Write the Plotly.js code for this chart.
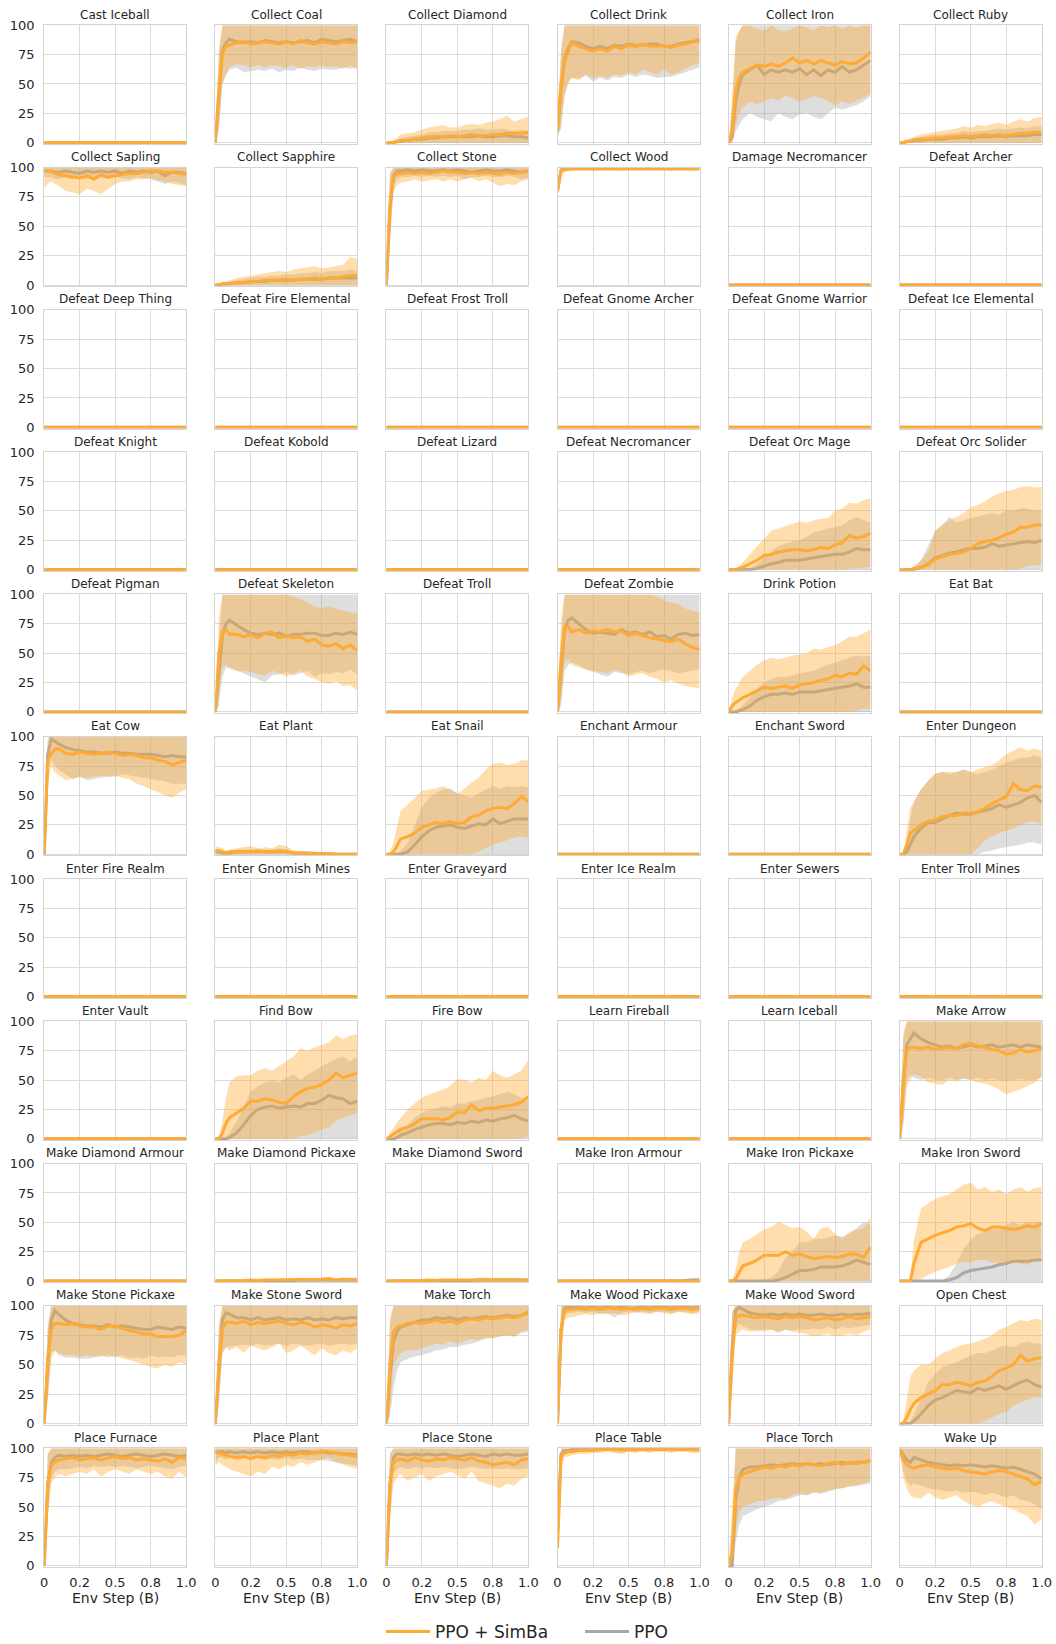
<!DOCTYPE html>
<html><head><meta charset="utf-8">
<script src="https://cdn.plot.ly/plotly-3.0.1.min.js"></script>
<style>body{margin:0;background:#fff}#chart{width:1056px;height:1644px}</style>
</head><body><div id="chart"></div>
<script>
// Env step (billions) sample points
const X = [0,0.025,0.05,0.075,0.1,0.15,0.2,0.25,0.3,0.35,0.4,0.45,0.5,0.55,0.6,0.65,0.7,0.75,0.8,0.85,0.9,0.95,1.0];
const XTICK_VALS = [0,0.25,0.5,0.75,1];
const XTICK_TEXT = ['0','0.2','0.5','0.8','1.0'];
const YTICK_VALS = [0,25,50,75,100];
const SERIES_NAMES = ['PPO + SimBa','PPO'];

const TITLES = [
'Cast Iceball','Collect Coal','Collect Diamond','Collect Drink','Collect Iron','Collect Ruby',
'Collect Sapling','Collect Sapphire','Collect Stone','Collect Wood','Damage Necromancer','Defeat Archer',
'Defeat Deep Thing','Defeat Fire Elemental','Defeat Frost Troll','Defeat Gnome Archer','Defeat Gnome Warrior','Defeat Ice Elemental',
'Defeat Knight','Defeat Kobold','Defeat Lizard','Defeat Necromancer','Defeat Orc Mage','Defeat Orc Solider',
'Defeat Pigman','Defeat Skeleton','Defeat Troll','Defeat Zombie','Drink Potion','Eat Bat',
'Eat Cow','Eat Plant','Eat Snail','Enchant Armour','Enchant Sword','Enter Dungeon',
'Enter Fire Realm','Enter Gnomish Mines','Enter Graveyard','Enter Ice Realm','Enter Sewers','Enter Troll Mines',
'Enter Vault','Find Bow','Fire Bow','Learn Fireball','Learn Iceball','Make Arrow',
'Make Diamond Armour','Make Diamond Pickaxe','Make Diamond Sword','Make Iron Armour','Make Iron Pickaxe','Make Iron Sword',
'Make Stone Pickaxe','Make Stone Sword','Make Torch','Make Wood Pickaxe','Make Wood Sword','Open Chest',
'Place Furnace','Place Plant','Place Stone','Place Table','Place Torch','Wake Up'];

const ZERO = [0,0,0,0,0,0,0,0,0,0,0,0,0,0,0,0,0,0,0,0,0,0,0];
// each task: [SimBa mean, SimBa low, SimBa high, PPO mean, PPO low, PPO high]
const collectCoal = [
 [0,45,76,82,83,85,86,84,85,86,85,84,86,84,87,85,84,86,85,84,86,85,86],
 [0,15,50,58,64,67,66,64,66,64,66,65,64,66,63,65,64,66,64,65,63,66,62],
 [0,80,100,100,100,100,100,100,100,100,100,100,100,100,100,100,100,100,100,100,100,100,100],
 [0,40,78,85,88,86,85,86,85,87,86,85,86,85,86,87,85,88,87,86,87,88,86],
 [0,10,50,58,62,64,60,61,62,61,63,60,62,61,64,62,61,63,62,62,64,63,64],
 [0,75,100,100,100,100,100,100,100,100,100,100,100,100,100,100,100,100,100,100,100,100,100]];
const collectDiamond = [
 [0,0,0,1,2,2,3,4,5,5,5,6,5,6,7,6,6,7,7,8,8,8,9],
 [0,0,0,0,0,0,0,0,0,0,0,0,0,0,0,0,0,0,0,0,0,0,0],
 [0,0,2,4,7,8,9,11,13,14,15,13,13,15,16,15,17,18,20,23,18,20,22],
 [0,0,0,1,1,2,3,3,4,4,5,5,5,5,5,6,5,5,6,6,5,5,4],
 [0,0,0,0,0,0,0,0,0,0,0,0,0,0,0,0,0,0,0,0,0,0,0],
 [0,0,1,2,3,5,6,7,9,9,10,10,10,11,11,12,11,11,12,11,10,11,10]];
const collectDrink = [
 [12,50,70,78,85,82,80,78,80,78,82,80,83,82,84,82,82,83,81,83,84,86,88],
 [5,15,40,50,55,53,58,55,57,55,58,57,60,58,62,60,58,62,58,60,63,66,68],
 [20,80,100,100,100,100,100,100,100,100,100,100,100,100,100,100,100,100,100,100,100,100,100],
 [10,45,72,80,86,85,82,80,82,80,83,82,84,83,83,84,84,82,82,84,85,86,87],
 [5,12,40,52,55,55,57,52,55,53,56,55,58,56,58,57,55,56,56,58,60,62,64],
 [20,75,100,100,100,100,100,100,100,100,100,100,100,100,100,100,100,100,100,100,100,100,100]];
const collectIron = [
 [0,10,45,55,60,63,66,65,67,65,68,72,68,70,67,70,68,66,69,67,68,72,77],
 [0,0,15,25,30,35,33,35,38,36,40,38,35,37,40,38,35,32,35,33,36,38,42],
 [0,40,90,95,100,100,97,95,100,96,95,97,100,98,96,100,98,100,97,100,98,100,100],
 [0,5,35,50,58,62,66,58,62,60,62,60,63,58,62,57,62,60,65,60,62,66,70],
 [0,0,10,15,20,25,22,20,18,25,22,20,24,25,22,20,25,30,28,30,32,35,40],
 [0,30,85,95,100,100,100,100,100,100,100,100,100,100,100,100,100,100,100,100,100,100,100]];
const collectRuby = [
 [0,0,1,1,2,3,3,4,4,5,5,6,5,6,7,6,7,6,7,8,8,9,9],
 [0,0,0,0,0,0,0,0,0,0,0,0,0,0,0,0,0,0,0,0,0,0,0],
 [0,1,3,4,5,7,8,9,10,11,12,14,13,15,14,16,17,15,18,20,18,21,22],
 [0,0,1,1,2,2,3,3,3,4,4,5,4,5,5,5,6,5,6,6,6,7,7],
 [0,0,0,0,0,0,0,0,0,0,0,0,0,0,0,0,0,0,0,0,0,0,0],
 [0,1,2,3,4,5,6,7,7,8,8,10,9,10,10,11,12,11,12,13,12,14,14]];
const collectSapling = [
 [97,97,97,95,94,93,92,91,93,90,94,92,93,94,95,95,96,97,97,96,96,95,94],
 [82,86,88,86,85,80,79,77,82,80,77,82,86,88,88,90,90,91,89,88,86,85,84],
 [100,100,100,100,100,100,100,100,100,100,100,100,100,100,100,100,100,100,100,100,100,100,100],
 [97,97,97,96,96,97,96,95,97,96,97,96,97,95,97,96,97,96,97,93,96,96,95],
 [92,92,92,90,90,92,90,91,90,92,91,90,92,91,90,92,91,90,88,86,88,87,85],
 [100,100,100,100,100,100,100,100,100,100,100,100,100,100,100,100,100,100,100,100,100,100,100]];
const collectSapphire = [
 [0,0,1,1,1,2,2,3,3,4,4,4,5,4,5,5,6,5,6,6,7,8,8],
 [0,0,0,0,0,0,0,0,0,0,0,0,0,0,0,0,0,0,0,0,0,0,0],
 [0,1,2,3,4,6,7,8,9,10,11,12,11,13,14,15,16,14,15,16,17,24,22],
 [0,0,1,1,1,2,2,3,3,3,4,4,4,4,5,5,5,5,6,6,6,6,6],
 [0,0,0,0,0,0,0,0,0,0,0,0,0,0,0,0,0,0,0,0,0,0,0],
 [0,1,2,2,3,4,5,6,7,7,8,8,9,9,10,10,11,10,12,12,12,13,12]];
const collectStone = [
 [0,70,92,95,95,96,95,96,95,96,97,96,96,95,96,95,96,95,94,96,95,96,97],
 [0,40,80,85,87,88,90,88,89,90,88,90,88,90,91,88,90,87,84,86,85,88,90],
 [0,95,100,100,100,100,100,100,100,100,100,100,100,100,100,100,100,100,100,100,100,100,100],
 [0,65,93,97,97,98,97,98,97,97,98,97,98,97,96,97,98,97,97,98,97,96,97],
 [0,35,85,90,92,92,93,92,93,92,93,92,93,90,92,92,93,92,92,93,92,90,91],
 [0,95,100,100,100,100,100,100,100,100,100,100,100,100,100,100,100,100,100,100,100,100,100]];
const collectWood = [
 [80,97,98,99,99,99,99,99,99,99,99,99,99,99,99,99,99,99,99,99,99,99,99],
 [75,94,96,97,97,98,98,97,98,98,98,97,98,98,98,98,98,98,97,98,98,97,98],
 [85,100,100,100,100,100,100,100,100,100,100,100,100,100,100,100,100,100,100,100,100,100,100],
 [80,98,99,99,99,99,99,99,99,99,99,99,99,99,99,99,99,99,99,99,99,99,99],
 [75,96,98,98,98,98,98,98,98,98,98,98,98,98,98,98,98,98,98,98,98,98,98],
 [85,100,100,100,100,100,100,100,100,100,100,100,100,100,100,100,100,100,100,100,100,100,100]];
const defeatOrcMage = [
 [0,0,0,1,2,5,8,12,13,15,16,17,17,16,17,19,18,21,23,29,27,28,31],
 [0,0,0,0,0,0,0,0,0,0,0,0,0,0,0,0,0,0,0,1,1,2,2],
 [0,0,1,3,6,13,20,26,33,35,37,39,41,40,42,43,44,50,52,57,56,59,61],
 [0,0,0,0,0,0,1,3,5,6,8,8,8,9,10,11,12,13,13,15,18,17,17],
 [0,0,0,0,0,0,0,0,0,0,0,0,0,0,0,0,0,0,0,0,0,0,0],
 [0,0,0,0,0,1,5,10,15,20,22,24,25,28,32,33,35,36,38,42,45,42,40]];
const defeatOrcSolider = [
 [0,0,0,0,1,2,4,9,11,13,14,15,18,22,24,25,27,30,32,36,36,38,38],
 [0,0,0,0,0,0,0,0,0,0,0,0,0,0,0,0,0,0,0,1,3,4,4],
 [0,0,0,1,3,8,15,33,38,42,45,48,53,55,58,62,65,67,68,70,71,70,70],
 [0,0,0,0,0,2,5,10,12,14,15,17,18,18,19,22,20,21,22,23,24,23,25],
 [0,0,0,0,0,0,0,0,0,0,0,0,0,0,0,0,0,0,0,0,0,0,0],
 [0,0,0,0,1,8,20,33,38,45,40,42,44,45,47,48,47,50,50,52,52,50,50]];
const defeatSkeleton = [
 [0,50,68,70,66,66,64,66,63,67,68,63,65,63,64,60,62,57,56,58,54,57,52],
 [0,15,38,40,38,35,35,34,32,31,35,33,30,33,35,30,28,25,24,26,22,23,18],
 [0,80,100,100,100,100,100,100,100,100,100,100,100,98,96,93,90,88,90,88,86,85,84],
 [0,30,65,75,78,74,70,67,66,67,66,67,64,66,66,67,67,65,65,67,66,68,66],
 [0,5,30,38,37,35,33,30,28,25,31,32,34,31,33,35,30,33,32,34,33,36,32],
 [0,60,100,100,100,100,100,100,100,100,100,100,100,100,100,100,100,100,100,100,100,100,100]];
const defeatZombie = [
 [0,45,72,73,68,70,67,69,68,70,68,69,65,67,65,63,62,61,60,62,58,55,53],
 [0,10,42,45,40,38,36,35,34,33,36,34,30,32,33,30,28,25,27,24,22,21,20],
 [0,80,100,100,100,100,100,100,100,100,100,100,100,100,100,100,98,95,93,92,88,86,85],
 [0,35,70,78,80,75,70,67,68,67,66,70,67,68,66,68,64,65,62,66,67,65,66],
 [0,5,35,40,42,40,36,34,32,30,34,33,32,34,35,33,35,36,35,33,34,35,36],
 [0,60,100,100,100,100,100,100,100,100,100,100,100,100,100,100,100,100,100,100,100,100,100]];
const drinkPotion = [
 [0,5,8,10,12,15,18,21,20,21,22,20,23,24,25,27,28,31,30,33,32,39,35],
 [0,0,0,0,0,0,0,0,0,0,0,0,0,0,0,0,0,0,0,0,1,3,3],
 [0,12,20,25,30,35,40,44,46,45,46,48,49,50,54,53,55,57,60,64,64,67,70],
 [0,0,0,1,2,5,10,13,15,15,16,15,17,17,17,18,19,20,21,22,24,21,21],
 [0,0,0,0,0,0,0,0,0,0,0,0,0,0,0,0,0,0,0,0,0,0,0],
 [0,0,1,3,6,12,20,25,28,30,30,31,33,34,35,38,40,42,44,46,48,47,48]];
const eatCow = [
 [0,80,86,89,90,86,85,87,86,85,86,87,86,84,85,84,82,82,80,79,76,78,80],
 [0,60,75,70,68,63,64,66,65,66,67,66,67,65,64,60,58,55,53,50,48,52,55],
 [0,95,100,100,100,100,100,100,100,100,100,100,100,100,100,100,100,100,100,100,100,100,100],
 [0,85,98,96,94,91,89,88,87,87,86,86,87,86,86,85,85,85,84,83,84,83,83],
 [0,70,80,76,72,68,64,66,63,64,65,66,66,68,67,66,65,64,63,62,60,60,60],
 [0,100,100,100,100,100,100,100,100,100,100,100,100,100,100,100,100,100,100,100,100,100,100]];
const eatPlant = [
 [3,3,2,1,2,2,2,2,3,2,2,3,2,1,1,1,0.5,0.5,0.5,0,0,0,0],
 [0,0,0,0,0,0,0,0,0,0,0,0,0,0,0,0,0,0,0,0,0,0,0],
 [7,6,5,3,4,5,6,7,5,6,5,8,7,3,3,2,1.5,1.5,1,1,0.5,0.5,0.5],
 [2,2,1,1,1,2,2,2,2,2,2,2,2,1,1,1,1,0.5,0.5,0,0,0,0],
 [0,0,0,0,0,0,0,0,0,0,0,0,0,0,0,0,0,0,0,0,0,0,0],
 [4,4,3,3,3,4,4,4,4,4,4,5,4,2,2,2,2,1,1,0.5,0.5,0.5,0.5]];
const eatSnail = [
 [0,0,2,8,13,15,18,23,25,27,26,28,26,27,32,33,37,39,40,39,43,49,45],
 [0,0,0,0,0,0,0,0,0,0,0,0,0,0,0,2,5,8,10,12,14,15,14],
 [0,2,10,25,37,42,48,54,55,56,58,55,51,56,61,65,72,77,78,76,77,80,80],
 [0,0,0,0,0,2,8,15,20,23,24,25,23,22,24,26,25,30,26,28,30,30,30],
 [0,0,0,0,0,0,0,0,0,0,0,0,0,0,0,0,0,0,0,0,0,0,0],
 [0,0,0,1,3,10,25,40,48,52,55,56,52,50,48,52,55,58,56,58,57,58,57]];
const enterDungeon = [
 [0,0,8,18,20,25,28,29,32,33,33,35,35,36,39,43,46,49,60,55,54,58,57],
 [0,0,0,0,0,0,0,0,0,0,0,0,0,5,12,15,18,20,22,25,27,28,26],
 [0,0,20,40,44,55,63,69,70,70,70,72,70,72,74,76,80,85,88,91,88,90,88],
 [0,0,2,8,15,22,27,27,30,33,35,34,34,36,37,39,42,40,42,44,48,50,44],
 [0,0,0,0,0,0,0,0,0,0,0,0,0,0,2,3,5,6,7,8,10,10,8],
 [0,0,10,30,45,55,62,68,70,68,70,72,70,68,70,72,75,78,80,82,82,84,82]];
const findBow = [
 [0,0,5,13,18,22,26,32,32,34,33,31,30,36,40,43,44,46,50,56,52,54,56],
 [0,0,0,0,0,0,0,0,0,0,0,0,0,0,2,3,5,8,10,15,18,20,22],
 [0,0,15,35,48,53,54,54,58,60,58,62,66,70,77,75,78,80,82,88,85,88,89],
 [0,0,0,0,1,5,12,20,25,27,28,26,27,28,27,30,30,33,37,35,34,30,32],
 [0,0,0,0,0,0,0,0,0,0,0,0,0,0,0,0,0,0,0,0,0,0,0],
 [0,0,0,2,5,15,28,40,45,48,50,48,52,55,50,55,58,62,65,68,70,66,70]];
const fireBow = [
 [0,2,4,6,8,10,13,17,17,17,16,18,23,22,29,24,26,26,27,28,29,31,36],
 [0,0,0,0,0,0,0,0,0,0,0,0,0,0,0,0,0,0,0,0,0,1,2],
 [0,5,10,14,18,25,30,35,38,40,42,45,51,50,48,52,50,58,54,52,55,58,67],
 [0,0,0,1,3,5,8,10,12,13,13,12,14,13,15,14,16,15,17,18,20,17,15],
 [0,0,0,0,0,0,0,0,0,0,0,0,0,0,0,0,0,0,0,0,0,0,0],
 [0,0,1,5,8,12,18,22,25,26,28,27,30,30,32,33,35,36,38,40,38,35,33]];
const makeArrow = [
 [0,50,75,78,78,77,78,76,77,78,77,80,81,79,78,76,75,72,73,76,74,75,77],
 [0,15,45,50,55,53,48,47,46,50,49,52,50,48,47,45,42,38,40,42,45,48,53],
 [0,90,100,100,100,100,100,100,100,100,100,100,100,100,100,100,100,100,100,100,100,100,100],
 [0,45,80,85,90,85,82,80,78,79,77,78,80,78,79,80,78,79,80,78,80,79,78],
 [0,10,50,55,52,50,52,50,50,52,50,51,50,52,50,51,50,49,50,51,50,50,52],
 [0,85,100,100,100,100,100,100,100,100,100,100,100,100,100,100,100,100,100,100,100,100,100]];
const makeDiamondPickaxe = [
 [0,0,0,0,0,0.5,0.5,1,0.5,1,1,1,1,1,1.5,1,1,1.5,2,1,1.5,1,1],
 [0,0,0,0,0,0,0,0,0,0,0,0,0,0,0,0,0,0,0,0,0,0,0],
 [0,0,0,0,0.5,1,1,2,1.5,2,2,2,1.5,2,3,2,2,3,4,2,3,2,2],
 [0,0,0,0,0,0,0.5,0.5,0.5,0.5,0.5,0.5,0.5,0.5,1,1,1,1,1,1,1,1.5,1],
 [0,0,0,0,0,0,0,0,0,0,0,0,0,0,0,0,0,0,0,0,0,0,0],
 [0,0,0,0,0,0.5,1,1,1,1,1,1,1,1,2,2,2,2,2,2,2,3,3]];
const makeDiamondSword = [
 [0,0,0,0,0,0.5,0.5,0.5,1,0.5,1,1,1,1,1,1,1.5,1,1.5,1,1.5,1,1],
 [0,0,0,0,0,0,0,0,0,0,0,0,0,0,0,0,0,0,0,0,0,0,0],
 [0,0,0,0,0.5,1,1,1,2,1,2,2,2,2,2,3,3,2,3,2,3,2,2],
 [0,0,0,0,0,0,0,0.5,0.5,0.5,0.5,0.5,0.5,0.5,0.5,1,1,1,1,1,1,1,1],
 [0,0,0,0,0,0,0,0,0,0,0,0,0,0,0,0,0,0,0,0,0,0,0],
 [0,0,0,0,0,0,0.5,1,1,1,1,1,1,1,1,2,2,2,2,3,2,2,2]];
const makeIronArmour = [
 [0,0,0,0,0,0,0,0,0,0,0,0,0,0,0,0,0,0,0,0,0,0,0],
 [0,0,0,0,0,0,0,0,0,0,0,0,0,0,0,0,0,0,0,0,0,0,0],
 [0,0,0,0,0,0,0,0,0,0,0,0.5,0,0,0,0.5,0,0,0.5,0,0.5,0.5,0.5],
 [0,0,0,0,0,0,0,0,0,0,0,0,0,0,0,0,0,0,0,0,0.5,1,1],
 [0,0,0,0,0,0,0,0,0,0,0,0,0,0,0,0,0,0,0,0,0,0,0],
 [0,0,0,0,0,0,0,0,0,0,0,0,0,0,0,0,0,0,0,0.5,1.5,2,3]];
const makeIronPickaxe = [
 [0,0,2,8,13,15,18,22,22,22,25,22,23,21,19,20,21,20,21,23,23,20,29],
 [0,0,0,0,0,0,0,0,0,0,0,0,0,0,0,0,0,0,0,0,0,0,0],
 [0,0,10,25,33,36,40,44,46,50,48,45,46,42,36,45,46,40,36,42,44,45,55],
 [0,0,0,0,0,0,0,0,0,1,3,6,9,9,10,12,12,12,13,15,18,16,14],
 [0,0,0,0,0,0,0,0,0,0,0,0,0,0,0,0,0,0,0,0,0,0,0],
 [0,0,0,0,0,0,0,1,3,8,20,25,33,33,36,36,37,39,38,40,45,50,48]];
const makeIronSword = [
 [0,0,0,0,15,33,36,39,41,43,46,47,49,45,43,46,46,45,44,45,47,46,49],
 [0,0,0,0,0,2,5,8,10,12,15,16,16,18,18,16,15,14,16,15,14,17,18],
 [0,0,0,2,35,62,66,70,72,74,78,82,84,78,80,76,78,74,78,80,76,79,80],
 [0,0,0,0,0,0,0,0,0,1,3,7,9,10,11,12,14,15,17,17,17,18,18],
 [0,0,0,0,0,0,0,0,0,0,0,0,0,0,0,0,0,0,0,0,0,0,0],
 [0,0,0,0,0,0,0,0,1,5,15,28,35,40,42,45,44,48,50,48,50,50,50]];
const makeStonePickaxe = [
 [0,55,80,85,85,84,85,83,82,82,80,83,83,81,79,78,76,76,74,74,74,75,79],
 [0,20,55,62,60,58,58,57,58,57,58,56,58,55,54,52,50,48,47,50,48,52,50],
 [0,85,100,100,100,100,100,100,100,100,100,100,100,100,100,100,100,100,100,100,100,100,100],
 [0,50,88,96,93,88,85,84,83,83,82,84,82,83,82,81,80,80,82,81,80,82,81],
 [0,20,60,62,58,56,56,55,55,56,57,58,56,58,55,56,55,58,56,57,56,58,58],
 [0,80,100,100,100,100,100,100,100,100,100,100,100,100,100,100,100,100,100,100,100,100,100]];
const makeStoneSword = [
 [0,50,80,86,86,85,87,84,86,85,86,87,85,84,86,85,82,84,83,81,84,83,85],
 [0,20,60,65,62,65,60,66,64,62,65,68,60,62,66,62,58,64,60,58,62,60,64],
 [0,85,100,100,100,100,100,100,100,100,100,100,100,100,100,100,100,100,100,100,100,100,100],
 [0,45,88,94,93,90,90,88,90,88,89,90,88,89,88,90,88,89,88,90,89,90,90],
 [0,15,60,65,65,66,67,66,68,66,67,68,66,68,67,66,67,68,66,67,68,67,68],
 [0,80,100,100,100,100,100,100,100,100,100,100,100,100,100,100,100,100,100,100,100,100,100]];
const makeTorch = [
 [0,50,78,82,83,85,86,85,86,88,86,87,85,88,89,88,90,89,90,91,90,92,95],
 [0,10,50,55,60,62,62,64,66,68,67,70,68,70,72,71,73,72,74,75,74,78,80],
 [0,90,100,100,100,100,100,100,100,100,100,100,100,100,100,100,100,100,100,100,100,100,100],
 [0,40,70,78,82,84,86,88,88,90,89,90,88,90,89,90,91,90,91,92,91,92,94],
 [0,5,30,45,52,55,57,58,60,62,63,65,65,67,68,70,72,73,74,75,74,77,78],
 [0,85,100,100,100,100,100,100,100,100,100,100,100,100,100,100,100,100,100,100,100,100,100]];
const makeWoodPickaxe = [
 [0,80,96,97,97,98,97,98,97,98,98,97,98,97,98,97,98,98,97,98,98,97,98],
 [0,60,88,90,91,92,93,92,94,93,94,92,93,95,94,93,95,94,93,95,94,93,94],
 [0,100,100,100,100,100,100,100,100,100,100,100,100,100,100,100,100,100,100,100,100,100,100],
 [0,80,98,99,99,99,98,99,98,99,98,99,98,98,99,98,99,99,98,99,99,98,99],
 [0,60,92,94,94,95,94,95,93,94,90,94,95,94,95,94,95,95,94,95,95,94,95],
 [0,100,100,100,100,100,100,100,100,100,100,100,100,100,100,100,100,100,100,100,100,100,100]];
const makeWoodSword = [
 [0,60,90,92,92,91,90,91,90,89,91,90,91,90,88,89,90,88,89,91,89,90,91],
 [0,30,75,78,80,78,80,78,80,77,80,78,77,76,74,75,76,74,75,76,75,78,80],
 [0,95,100,100,100,100,100,100,100,100,100,100,100,100,100,100,100,100,100,100,100,100,100],
 [0,65,96,99,97,94,93,92,93,92,93,92,93,92,92,93,92,92,93,92,93,93,94],
 [0,30,80,85,83,80,78,80,80,78,80,79,80,80,81,80,82,80,82,81,82,83,84],
 [0,95,100,100,100,100,100,100,100,100,100,100,100,100,100,100,100,100,100,100,100,100,100]];
const openChest = [
 [0,0,5,12,17,22,25,28,33,33,35,34,32,35,36,40,45,47,50,58,53,55,56],
 [0,0,0,0,0,0,0,0,0,0,0,0,0,0,2,5,8,10,15,18,20,22,22],
 [0,2,20,40,45,50,50,55,60,62,65,67,68,70,72,75,80,82,85,88,87,89,88],
 [0,0,0,0,2,8,15,20,22,25,28,27,26,30,28,30,32,29,32,35,37,33,31],
 [0,0,0,0,0,0,0,0,0,0,0,0,0,0,0,0,0,0,0,0,0,0,0],
 [0,0,0,2,8,20,35,42,48,50,52,55,58,60,60,62,65,66,65,68,70,68,68]];
const placeFurnace = [
 [0,70,85,88,90,91,92,90,91,92,90,92,93,91,92,90,91,90,89,91,88,92,91],
 [0,40,70,75,78,76,78,80,78,82,76,80,82,80,78,82,80,78,80,76,74,80,75],
 [0,95,100,100,100,100,100,100,100,100,100,100,100,100,100,100,100,100,100,100,100,100,100],
 [0,70,88,92,94,93,94,93,94,93,94,95,94,93,94,95,94,93,94,95,94,93,94],
 [0,45,75,80,82,82,83,84,83,85,84,85,84,85,84,83,84,85,84,83,82,84,85],
 [0,95,100,100,100,100,100,100,100,100,100,100,100,100,100,100,100,100,100,100,100,100,100]];
const placePlant = [
 [97,96,95,94,93,92,93,91,93,92,94,93,95,94,96,95,96,97,97,96,95,94,93],
 [85,88,86,84,82,80,78,76,80,78,84,82,86,84,88,86,88,90,92,88,86,84,82],
 [100,100,100,100,100,100,100,100,100,100,100,100,100,100,100,100,100,100,100,100,100,100,100],
 [96,97,97,96,97,96,97,96,97,96,97,96,97,96,97,97,96,97,96,96,95,95,94],
 [88,92,92,90,92,90,91,90,92,90,91,90,92,90,91,90,90,90,89,88,87,86,85],
 [100,100,100,100,100,100,100,100,100,100,100,100,100,100,100,100,100,100,100,100,100,100,100]];
const placeStone = [
 [0,70,88,90,91,89,92,90,89,91,90,92,91,90,92,89,88,86,87,88,86,90,91],
 [0,40,70,75,78,72,75,78,72,76,78,80,77,74,80,72,70,68,66,70,68,74,76],
 [0,95,100,100,100,100,100,100,100,100,100,100,100,100,100,100,100,100,100,100,100,100,100],
 [0,70,92,95,95,94,95,94,95,94,95,94,93,94,95,94,93,95,94,95,94,94,95],
 [0,40,78,82,84,82,84,83,84,83,84,83,82,83,84,83,82,83,82,83,82,82,83],
 [0,95,100,100,100,100,100,100,100,100,100,100,100,100,100,100,100,100,100,100,100,100,100]];
const placeTable = [
 [15,93,96,97,97,98,98,98,99,99,99,99,99,99,99,99,99,99,99,99,99,99,99],
 [10,85,92,93,94,95,95,96,96,97,96,95,97,96,97,96,97,97,96,97,97,96,96],
 [25,100,100,100,100,100,100,100,100,100,100,100,100,100,100,100,100,100,100,100,100,100,100],
 [30,95,98,98,99,99,99,99,99,99,99,99,99,99,99,99,99,99,99,99,99,99,99],
 [20,88,95,96,96,97,97,97,97,98,97,96,97,97,98,97,98,98,97,98,98,97,97],
 [40,100,100,100,100,100,100,100,100,100,100,100,100,100,100,100,100,100,100,100,100,100,100]];
const placeTorch = [
 [0,10,65,75,78,80,82,84,83,85,84,86,85,87,86,85,87,88,86,88,87,88,90],
 [0,0,30,45,50,52,55,55,57,58,57,60,62,60,63,62,64,65,66,68,68,70,72],
 [0,50,100,100,100,100,100,100,100,100,100,100,100,100,100,100,100,100,100,100,100,100,100],
 [0,0,55,75,82,84,84,85,86,85,86,87,86,87,86,87,86,87,88,87,88,88,89],
 [0,0,20,35,42,45,48,50,52,55,56,58,60,60,62,61,63,65,66,67,68,69,70],
 [0,30,100,100,100,100,100,100,100,100,100,100,100,100,100,100,100,100,100,100,100,100,100]];
const wakeUp = [
 [99,90,86,84,83,85,86,84,83,82,83,81,80,79,78,80,81,80,78,76,74,69,72],
 [98,75,65,60,58,57,62,58,56,58,60,55,52,50,53,55,52,50,48,45,42,35,40],
 [100,100,100,100,100,100,100,100,100,100,100,100,100,100,100,100,100,100,100,100,100,100,100],
 [99,95,90,88,92,90,88,87,86,85,86,85,86,85,84,85,84,83,84,82,80,78,74],
 [98,80,72,68,70,68,66,65,64,63,64,62,63,62,60,62,60,58,60,56,55,52,48],
 [100,100,100,100,100,100,100,100,100,100,100,100,100,100,100,100,100,100,100,100,100,100,100]];

const TASK_DATA = {
 'Collect Coal': collectCoal, 'Collect Diamond': collectDiamond, 'Collect Drink': collectDrink,
 'Collect Iron': collectIron, 'Collect Ruby': collectRuby, 'Collect Sapling': collectSapling,
 'Collect Sapphire': collectSapphire, 'Collect Stone': collectStone, 'Collect Wood': collectWood,
 'Defeat Orc Mage': defeatOrcMage, 'Defeat Orc Solider': defeatOrcSolider, 'Defeat Skeleton': defeatSkeleton,
 'Defeat Zombie': defeatZombie, 'Drink Potion': drinkPotion, 'Eat Cow': eatCow, 'Eat Plant': eatPlant,
 'Eat Snail': eatSnail, 'Enter Dungeon': enterDungeon, 'Find Bow': findBow, 'Fire Bow': fireBow,
 'Make Arrow': makeArrow, 'Make Diamond Pickaxe': makeDiamondPickaxe, 'Make Diamond Sword': makeDiamondSword,
 'Make Iron Armour': makeIronArmour, 'Make Iron Pickaxe': makeIronPickaxe, 'Make Iron Sword': makeIronSword,
 'Make Stone Pickaxe': makeStonePickaxe, 'Make Stone Sword': makeStoneSword, 'Make Torch': makeTorch,
 'Make Wood Pickaxe': makeWoodPickaxe, 'Make Wood Sword': makeWoodSword, 'Open Chest': openChest,
 'Place Furnace': placeFurnace, 'Place Plant': placePlant, 'Place Stone': placeStone,
 'Place Table': placeTable, 'Place Torch': placeTorch, 'Wake Up': wakeUp
};

// ---- styling / layout ----
const W = 1056, H = 1644;
const NCOL = 6, NROW = 11;
const LEFT0 = 44.2, COL_STEP = 171.1, PW = 142.0;
const TOP0 = 25.2, ROW_STEP = 142.3, PH = 118.7;
const ORANGE = 'rgb(255,170,51)', GREY = 'rgb(168,168,168)';
const ORANGE_BAND = 'rgba(255,165,40,0.38)', GREY_BAND = 'rgba(160,160,160,0.35)';
const FONT = 'DejaVu Sans, Liberation Sans, sans-serif';
const TXT = '#262626';

const traces = [];
const layout = {
  width: W, height: H, margin: {l:0, r:0, t:0, b:0, autoexpand: false},
  paper_bgcolor: '#fff', plot_bgcolor: '#fff',
  font: {family: FONT, color: TXT},
  showlegend: true,
  legend: {orientation: 'h', x: 381 / W, xanchor: 'left', y: 1 - 1632/H, yanchor: 'middle',
           font: {size: 17, family: FONT, color: TXT}, bgcolor: 'rgba(0,0,0,0)',
           itemwidth: 44, entrywidth: 140, entrywidthmode: 'pixels'},
  annotations: []
};
const revX = X.slice().reverse();

TITLES.forEach((title, i) => {
  const r = Math.floor(i / NCOL), c = i % NCOL;
  const d = TASK_DATA[title] || [ZERO, ZERO, ZERO, ZERO, ZERO, ZERO];
  const sfx = i === 0 ? '' : String(i + 1);
  const xa = 'x' + sfx, ya = 'y' + sfx;
  const left = LEFT0 + COL_STEP * c, top = TOP0 + ROW_STEP * r;
  const common = {xaxis: xa, yaxis: ya, hoverinfo: 'skip', mode: 'lines'};
  // PPO band + line
  traces.push(Object.assign({}, common, {x: X.concat(revX), y: d[5].concat(d[4].slice().reverse()),
    fill: 'toself', fillcolor: GREY_BAND, line: {width: 0}, showlegend: false}));
  traces.push(Object.assign({}, common, {x: X, y: d[3], name: SERIES_NAMES[1], legendrank: 2,
    line: {color: GREY, width: 3}, showlegend: i === 0}));
  // SimBa band + line
  traces.push(Object.assign({}, common, {x: X.concat(revX), y: d[2].concat(d[1].slice().reverse()),
    fill: 'toself', fillcolor: ORANGE_BAND, line: {width: 0}, showlegend: false}));
  traces.push(Object.assign({}, common, {x: X, y: d[0], name: SERIES_NAMES[0], legendrank: 1,
    line: {color: ORANGE, width: 3}, showlegend: i === 0}));

  layout['xaxis' + sfx] = {
    domain: [left / W, (left + PW) / W], anchor: ya, range: [0, 1],
    tickvals: XTICK_VALS, ticktext: XTICK_TEXT, showticklabels: r === NROW - 1,
    tickfont: {size: 13, family: FONT, color: TXT}, ticks: '', ticklabelstandoff: 3,
    showgrid: true, gridcolor: '#dcdcdc', gridwidth: 1, zeroline: false,
    showline: true, mirror: true, linecolor: '#d4d4d4', linewidth: 1, fixedrange: true
  };
  layout['yaxis' + sfx] = {
    domain: [1 - (top + PH) / H, 1 - top / H], anchor: xa, range: [-1, 100],
    tickvals: YTICK_VALS, showticklabels: c === 0,
    tickfont: {size: 13, family: FONT, color: TXT}, ticks: '', ticklabelstandoff: 6,
    showgrid: true, gridcolor: '#dcdcdc', gridwidth: 1, zeroline: false,
    showline: true, mirror: true, linecolor: '#d4d4d4', linewidth: 1, fixedrange: true
  };
  layout.annotations.push({text: title, xref: 'paper', yref: 'paper',
    x: (left + PW / 2) / W, y: 1 - (top - 10.5) / H, xanchor: 'center', yanchor: 'middle',
    showarrow: false, font: {size: 12, family: FONT, color: TXT}});
  if (r === NROW - 1) {
    layout.annotations.push({text: 'Env Step (B)', xref: 'paper', yref: 'paper',
      x: (left + PW / 2) / W, y: 1 - 1598 / H, xanchor: 'center', yanchor: 'middle',
      showarrow: false, font: {size: 14, family: FONT, color: TXT}});
  }
});

Plotly.newPlot('chart', traces, layout, {staticPlot: true, displayModeBar: false});
</script>
</body></html>
